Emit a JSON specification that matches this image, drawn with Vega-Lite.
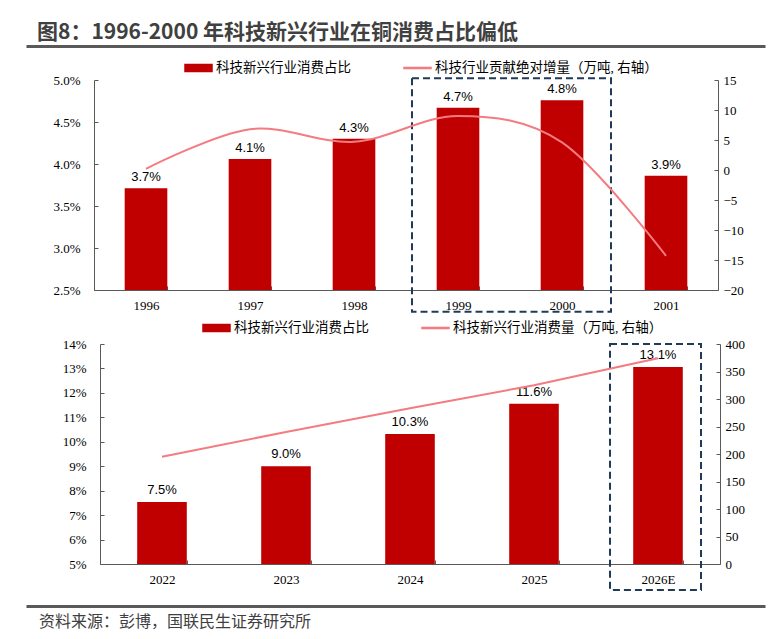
{
  "$schema": "https://vega.github.io/schema/vega-lite/v6.json",
  "background": "#ffffff",
  "padding": {"left": 26, "top": 22, "right": 5, "bottom": 5},
  "config": {
    "view": {"stroke": null},
    "axis": {
      "labelFont": "Liberation Serif",
      "labelFontSize": 13,
      "labelColor": "#000000",
      "labelOverlap": false,
      "domainColor": "#595959",
      "tickColor": "#595959",
      "tickSize": -4,
      "grid": false
    },
    "legend": {
      "labelFont": "Liberation Serif, Noto Sans CJK SC",
      "labelFontSize": 13.5,
      "labelColor": "#000000",
      "labelLimit": 400,
      "labelOffset": 3,
      "symbolSize": 729,
      "columnPadding": 50,
      "padding": 0
    }
  },
  "concat": [
    {
      "concat": [
        {
          "width": 739,
          "height": 1,
          "title": {
            "text": "图8：1996-2000 年科技新兴行业在铜消费占比偏低",
            "anchor": "start",
            "dx": 11,
            "offset": 2,
            "font": "Noto Sans CJK SC",
            "fontSize": 21,
            "fontWeight": "bold",
            "color": "#404040"
          },
          "data": {"values": [{"t": ""}]},
          "mark": {"type": "point", "size": 0, "opacity": 0},
          "encoding": {
            "x": {
              "field": "t",
              "type": "nominal",
              "title": null,
              "axis": {"orient": "bottom", "labels": false, "ticks": false, "domainWidth": 3, "domainColor": "#595959"}
            }
          }
        },
        {
          "concat": [
            {
              "hconcat": [
                {
                  "width": 1,
                  "height": 1,
                  "data": {"values": [{"t": ""}]},
                  "mark": {"type": "text"},
                  "encoding": {"text": {"field": "t"}}
                },
                {
                  "width": 624,
                  "height": 210,
                  "data": {
                    "values": [
                      {"year": "1996", "share": 0.0371, "inc": 0.2},
                      {"year": "1997", "share": 0.0406, "inc": 6.8},
                      {"year": "1998", "share": 0.0430, "inc": 4.7},
                      {"year": "1999", "share": 0.0467, "inc": 9.0},
                      {"year": "2000", "share": 0.0476, "inc": 4.6},
                      {"year": "2001", "share": 0.0386, "inc": -14.3}
                    ]
                  },
                  "encoding": {
                    "x": {
                      "field": "year",
                      "type": "nominal",
                      "title": null,
                      "scale": {"paddingInner": 0.59, "paddingOuter": 0.295},
                      "axis": {"labelAngle": 0, "tickBand": "extent", "labelPadding": 13}
                    }
                  },
                  "layer": [
                    {
                      "layer": [
                        {
                          "mark": {"type": "bar"},
                          "encoding": {
                            "y": {
                              "field": "share",
                              "type": "quantitative",
                              "title": null,
                              "scale": {"domain": [0.025, 0.05], "nice": false, "zero": false},
                              "axis": {
                                "values": [0.025, 0.03, 0.035, 0.04, 0.045, 0.05],
                                "tickCount": 20,
                                "format": ".1%",
                                "labelOverlap": false,
                                "labelPadding": 18,
                                "minExtent": 67
                              }
                            },
                            "y2": {"datum": 0.025},
                            "color": {
                              "datum": "科技新兴行业消费占比",
                              "scale": {
                                "domain": ["科技新兴行业消费占比", "科技行业贡献绝对增量（万吨, 右轴）"],
                                "range": ["#C00000", "#F47B80"]
                              },
                              "legend": {
                                "title": null,
                                "orient": "none",
                                "direction": "horizontal",
                                "legendX": 158,
                                "legendY": -27,
                                "encode": {
                                  "symbols": {
                                    "update": {
                                      "shape": {"signal": "datum.value === '科技新兴行业消费占比' ? 'M-1,-0.26H1V0.26H-1Z' : 'M-1,-0.04H1V0.04H-1Z'"},
                                      "fill": {"signal": "datum.value === '科技新兴行业消费占比' ? '#C00000' : '#F47B80'"},
                                      "stroke": {"value": "transparent"},
                                      "opacity": {"value": 1}
                                    }
                                  }
                                }
                              }
                            }
                          }
                        },
                        {
                          "mark": {"type": "text", "dy": -7, "baseline": "alphabetic", "font": "Liberation Sans", "fontSize": 13, "color": "#000000"},
                          "encoding": {
                            "y": {"field": "share", "type": "quantitative"},
                            "text": {"field": "share", "type": "quantitative", "format": ".1%"}
                          }
                        },
                        {
                          "data": {"values": [{"from": "1999", "to": "2000"}]},
                          "mark": {"type": "rect", "fill": null, "stroke": "#1F3B57", "strokeWidth": 2, "strokeDash": [7, 4], "xOffset": -46, "x2Offset": 49},
                          "encoding": {
                            "x": {"field": "from", "type": "nominal"},
                            "x2": {"field": "to"},
                            "y": {"datum": 0.0502},
                            "y2": {"datum": 0.0224}
                          }
                        }
                      ]
                    },
                    {
                      "mark": {"type": "line", "interpolate": "cardinal", "strokeWidth": 2},
                      "encoding": {
                        "y": {
                          "field": "inc",
                          "type": "quantitative",
                          "title": null,
                          "scale": {"domain": [-20, 15], "nice": false, "zero": false},
                          "axis": {
                            "orient": "right",
                            "values": [-20, -15, -10, -5, 0, 5, 10, 15],
                            "tickCount": 20,
                            "labelOverlap": false,
                            "labelPadding": 9
                          }
                        },
                        "color": {"datum": "科技行业贡献绝对增量（万吨, 右轴）"}
                      }
                    }
                  ],
                  "resolve": {"scale": {"y": "independent"}}
                }
              ],
              "spacing": 0
            },
            {
              "hconcat": [
                {
                  "width": 1,
                  "height": 1,
                  "data": {"values": [{"t": ""}]},
                  "mark": {"type": "text"},
                  "encoding": {"text": {"field": "t"}}
                },
                {
                  "width": 620,
                  "height": 220,
                  "data": {
                    "values": [
                      {"year": "2022", "share": 0.0754, "vol": 195},
                      {"year": "2023", "share": 0.0900, "vol": 240},
                      {"year": "2024", "share": 0.1032, "vol": 283},
                      {"year": "2025", "share": 0.1156, "vol": 325},
                      {"year": "2026E", "share": 0.1306, "vol": 374}
                    ]
                  },
                  "encoding": {
                    "x": {
                      "field": "year",
                      "type": "nominal",
                      "title": null,
                      "scale": {"paddingInner": 0.6, "paddingOuter": 0.3},
                      "axis": {"labelAngle": 0, "tickBand": "extent", "labelPadding": 13}
                    }
                  },
                  "layer": [
                    {
                      "layer": [
                        {
                          "mark": {"type": "bar"},
                          "encoding": {
                            "y": {
                              "field": "share",
                              "type": "quantitative",
                              "title": null,
                              "scale": {"domain": [0.05, 0.14], "nice": false, "zero": false},
                              "axis": {
                                "values": [0.05, 0.06, 0.07, 0.08, 0.09, 0.1, 0.11, 0.12, 0.13, 0.14],
                                "tickCount": 20,
                                "format": ".0%",
                                "labelOverlap": false,
                                "labelPadding": 18,
                                "minExtent": 73
                              }
                            },
                            "y2": {"datum": 0.05},
                            "color": {
                              "datum": "科技新兴行业消费占比",
                              "scale": {
                                "domain": ["科技新兴行业消费占比", "科技新兴行业消费量（万吨, 右轴）"],
                                "range": ["#C00000", "#F47B80"]
                              },
                              "legend": {
                                "title": null,
                                "orient": "none",
                                "direction": "horizontal",
                                "legendX": 176,
                                "legendY": -31,
                                "encode": {
                                  "symbols": {
                                    "update": {
                                      "shape": {"signal": "datum.value === '科技新兴行业消费占比' ? 'M-1,-0.26H1V0.26H-1Z' : 'M-1,-0.04H1V0.04H-1Z'"},
                                      "fill": {"signal": "datum.value === '科技新兴行业消费占比' ? '#C00000' : '#F47B80'"},
                                      "stroke": {"value": "transparent"},
                                      "opacity": {"value": 1}
                                    }
                                  }
                                }
                              }
                            }
                          }
                        },
                        {
                          "mark": {"type": "text", "dy": -8, "baseline": "alphabetic", "font": "Liberation Sans", "fontSize": 13, "color": "#000000"},
                          "encoding": {
                            "y": {"field": "share", "type": "quantitative"},
                            "text": {"field": "share", "type": "quantitative", "format": ".1%"}
                          }
                        },
                        {
                          "data": {"values": [{"from": "2026E", "to": "2026E"}]},
                          "mark": {"type": "rect", "fill": null, "stroke": "#1F3B57", "strokeWidth": 2, "strokeDash": [7, 4], "xOffset": -48, "x2Offset": 43},
                          "encoding": {
                            "x": {"field": "from", "type": "nominal"},
                            "x2": {"field": "to"},
                            "y": {"datum": 0.14},
                            "y2": {"datum": 0.0394}
                          }
                        }
                      ]
                    },
                    {
                      "mark": {"type": "line", "strokeWidth": 2},
                      "encoding": {
                        "y": {
                          "field": "vol",
                          "type": "quantitative",
                          "title": null,
                          "scale": {"domain": [0, 400], "nice": false},
                          "axis": {
                            "orient": "right",
                            "values": [0, 50, 100, 150, 200, 250, 300, 350, 400],
                            "tickCount": 20,
                            "labelOverlap": false,
                            "labelPadding": 9
                          }
                        },
                        "color": {"datum": "科技新兴行业消费量（万吨, 右轴）"}
                      }
                    }
                  ],
                  "resolve": {"scale": {"y": "independent"}}
                }
              ],
              "spacing": 0
            }
          ],
          "columns": 1,
          "align": "none",
          "spacing": 0,
          "resolve": {"scale": {"color": "independent"}, "legend": {"color": "independent"}}
        }
      ],
      "columns": 1,
      "align": "none",
      "spacing": 7,
      "resolve": {"scale": {"color": "independent"}, "legend": {"color": "independent"}}
    },
    {
      "width": 739,
      "height": 1,
      "title": {
        "text": "资料来源：彭博，国联民生证券研究所",
        "orient": "bottom",
        "anchor": "start",
        "dx": 13,
        "offset": 8,
        "font": "Noto Sans CJK SC",
        "fontSize": 16,
        "fontWeight": "normal",
        "color": "#404040"
      },
      "data": {"values": [{"t": ""}]},
      "mark": {"type": "point", "size": 0, "opacity": 0},
      "encoding": {
        "x": {
          "field": "t",
          "type": "nominal",
          "title": null,
          "axis": {"orient": "bottom", "labels": false, "ticks": false, "domainWidth": 3, "domainColor": "#595959"}
        }
      }
    }
  ],
  "columns": 1,
  "align": "none",
  "spacing": 14,
  "resolve": {"scale": {"color": "independent"}, "legend": {"color": "independent"}}
}
